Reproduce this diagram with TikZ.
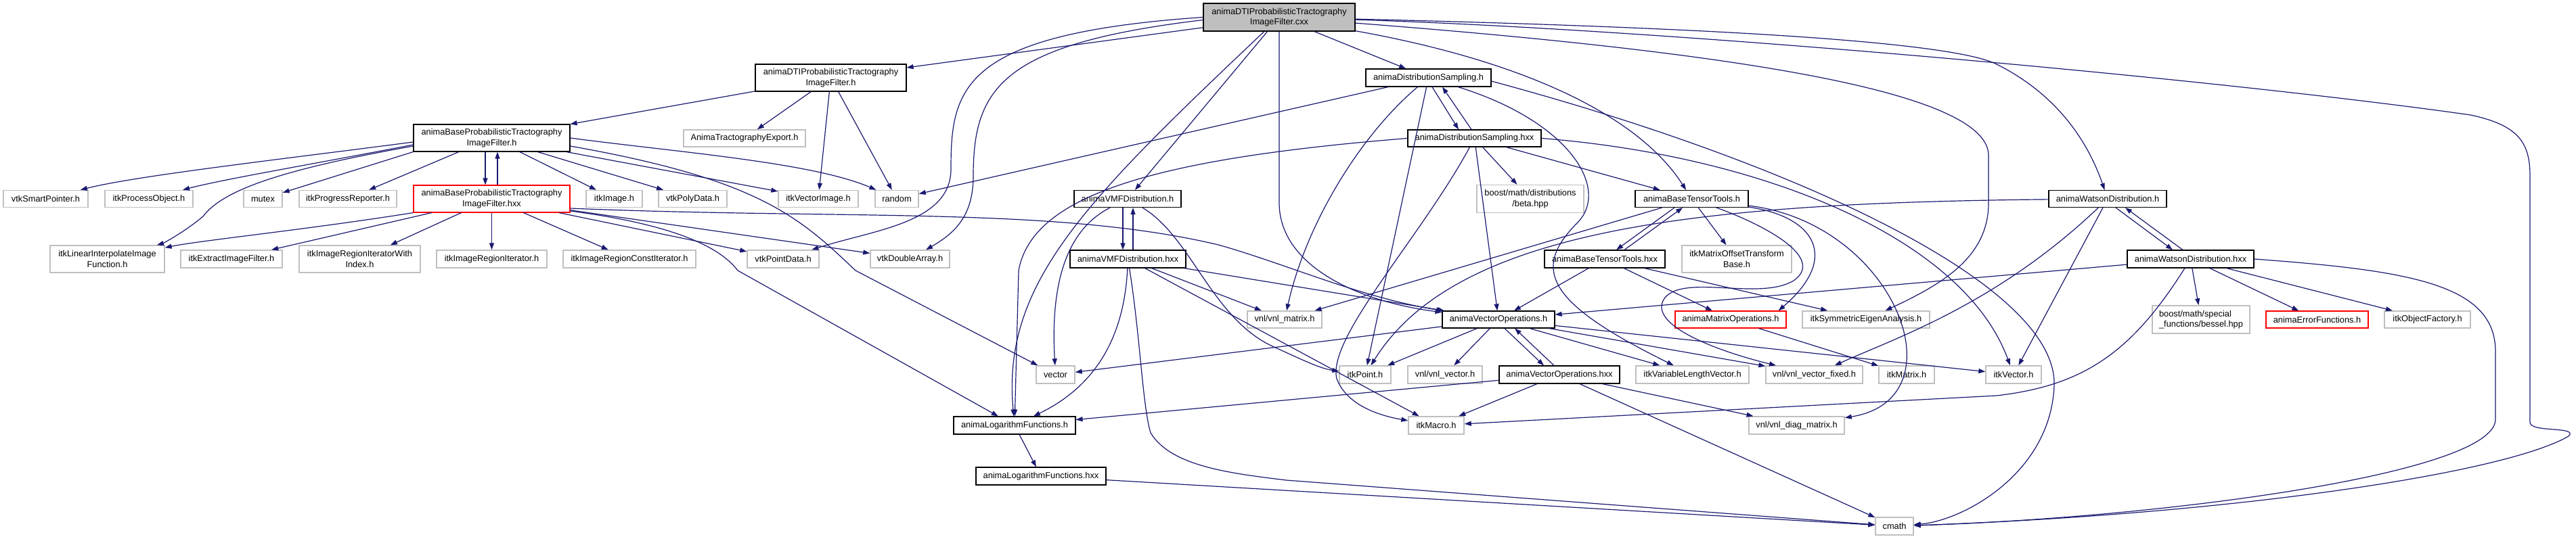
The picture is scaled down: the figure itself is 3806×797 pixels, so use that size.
\documentclass[tikz,border=0pt]{standalone}
\usepackage{fontspec}
\setmainfont{Liberation Sans}
\usetikzlibrary{arrows.meta,calc}
\definecolor{edgec}{HTML}{191970}
\definecolor{sysc}{HTML}{BFBFBF}
\definecolor{rootc}{HTML}{BFBFBF}
\definecolor{truncc}{HTML}{FF0000}
\newcommand\mybox[7]{\node[#1,minimum width={(#5-#3)*1pt},minimum height={(#6-#4)*1pt}] (#2) at ({(#3+#5)/2},{(#4+#6)/2}) {#7};}
\tikzset{
  basebox/.style={rectangle,inner sep=0pt,align=center,font=\fontsize{12.8}{15.5}\selectfont},
  sysn/.style={basebox,draw=sysc,line width=1.4pt},
  prjn/.style={basebox,draw=black,line width=1.1pt},
  trn/.style={basebox,draw=truncc,line width=1.1pt},
  rootn/.style={basebox,draw=black,fill=rootc,line width=1.1pt},
  edge/.style={draw=edgec,line width=1.2pt,-{Triangle[length=10pt,width=7pt]}}
}
\begin{document}
\begin{tikzpicture}[x=1pt,y=-1pt]
\useasboundingbox (0,0) rectangle (3806,797);
% ---------- nodes ----------
\mybox{rootn}{T}{1778}{5}{2002}{46}{animaDTIProbabilisticTractography\\ImageFilter.cxx}
\mybox{prjn}{DTIh}{1116}{95}{1339}{135}{animaDTIProbabilisticTractography\\ImageFilter.h}
\mybox{sysn}{ATE}{1010}{192}{1190}{217}{AnimaTractographyExport.h}
\mybox{prjn}{BPh}{611}{184}{842}{224}{animaBaseProbabilisticTractography\\ImageFilter.h}
\mybox{trn}{BPhxx}{611}{274}{842}{314}{animaBaseProbabilisticTractography\\ImageFilter.hxx}
\mybox{sysn}{vtkSP}{5}{281.5}{130}{306.5}{vtkSmartPointer.h}
\mybox{sysn}{itkPO}{155}{281.5}{285}{306.5}{itkProcessObject.h}
\mybox{sysn}{mutex}{360}{281.5}{417}{306.5}{mutex}
\mybox{sysn}{itkPR}{442}{281.5}{586}{306.5}{itkProgressReporter.h}
\mybox{sysn}{itkImage}{866}{281.5}{949}{306.5}{itkImage.h}
\mybox{sysn}{vtkPoly}{973}{281.5}{1074}{306.5}{vtkPolyData.h}
\mybox{sysn}{itkVI}{1150}{281.5}{1268}{306.5}{itkVectorImage.h}
\mybox{sysn}{random}{1293}{281.5}{1357}{306.5}{random}
\mybox{prjn}{VMFh}{1587}{281.5}{1745}{306.5}{animaVMFDistribution.h}
\mybox{prjn}{VMFhxx}{1581}{370}{1752}{396}{animaVMFDistribution.hxx}
\mybox{sysn}{itkLin}{74}{363}{243}{403}{itkLinearInterpolateImage\\Function.h}
\mybox{sysn}{itkExt}{267}{370}{417}{396}{itkExtractImageFilter.h}
\mybox{sysn}{itkIRIWI}{442}{363}{621}{403}{itkImageRegionIteratorWith\\Index.h}
\mybox{sysn}{itkIRI}{645}{370}{808}{396}{itkImageRegionIterator.h}
\mybox{sysn}{itkIRCI}{832}{370}{1028}{396}{itkImageRegionConstIterator.h}
\mybox{sysn}{vtkPD}{1104}{370}{1210}{396}{vtkPointData.h}
\mybox{sysn}{vtkDA}{1286}{370}{1403}{396}{vtkDoubleArray.h}
\mybox{prjn}{DSh}{2018}{102}{2203}{128}{animaDistributionSampling.h}
\mybox{prjn}{DShxx}{2080}{192}{2277}{217}{animaDistributionSampling.hxx}
\mybox{sysn}{beta}{2182}{273.5}{2340}{314.5}{boost/math/distributions\\/beta.hpp}
\mybox{prjn}{BTTh}{2416}{281.5}{2583}{306.5}{animaBaseTensorTools.h}
\mybox{prjn}{BTThxx}{2282}{370}{2460}{396}{animaBaseTensorTools.hxx}
\mybox{sysn}{itkMOTB}{2485}{363}{2647}{403}{itkMatrixOffsetTransform\\Base.h}
\mybox{prjn}{Wh}{3027}{281.5}{3201}{306.5}{animaWatsonDistribution.h}
\mybox{prjn}{Whxx}{3143}{370}{3330}{396}{animaWatsonDistribution.hxx}
\mybox{sysn}{vector}{1531}{541}{1588}{567}{vector}
\mybox{prjn}{LFh}{1409}{616}{1589}{642}{animaLogarithmFunctions.h}
\mybox{prjn}{LFhxx}{1442}{691}{1634}{717}{animaLogarithmFunctions.hxx}
\mybox{sysn}{vnlM}{1843}{460}{1953}{485}{vnl/vnl\_matrix.h}
\mybox{prjn}{VOh}{2131}{460}{2297}{485}{animaVectorOperations.h}
\mybox{trn}{MOh}{2475}{460}{2639}{485}{animaMatrixOperations.h}
\mybox{sysn}{itkSym}{2663}{460}{2851}{485}{itkSymmetricEigenAnalysis.h}
\mybox{sysn}{itkPoint}{1979}{541}{2055}{567}{itkPoint.h}
\mybox{sysn}{vnlV}{2080}{541}{2190}{567}{vnl/vnl\_vector.h}
\mybox{prjn}{VOhxx}{2215}{541}{2393}{567}{animaVectorOperations.hxx}
\mybox{sysn}{itkVLV}{2417}{541}{2584}{567}{itkVariableLengthVector.h}
\mybox{sysn}{vnlVF}{2609}{541}{2752}{567}{vnl/vnl\_vector\_fixed.h}
\mybox{sysn}{itkMatrix}{2776}{541}{2858}{567}{itkMatrix.h}
\mybox{sysn}{itkVector}{2934}{541}{3016}{567}{itkVector.h}
\mybox{sysn}{itkMacro}{2081}{616}{2163}{642}{itkMacro.h}
\mybox{sysn}{vnlDiag}{2584}{616}{2725}{642}{vnl/vnl\_diag\_matrix.h}
\mybox{sysn}{cmath}{2771}{765}{2827}{791}{cmath}
\node[sysn,align=left,minimum width=144pt,minimum height=41pt] (bessel) at (3252,472.5) {boost/math/special\\\_functions/bessel.hpp};
\mybox{trn}{errF}{3348}{460}{3499}{485}{animaErrorFunctions.h}
\mybox{sysn}{itkOF}{3523}{460}{3650}{485}{itkObjectFactory.h}
% ---------- edges from the .cxx ----------
\draw[edge] (T) -- (DTIh);
\draw[edge] (T.west) .. controls (1420,50) and (1405,130) .. (1405,250) .. controls (1405,330) and (1290,340) .. (vtkPD);
\draw[edge] ($(T.west)+(0,4)$) .. controls (1480,65) and (1438,130) .. (1438,260) .. controls (1438,320) and (1410,345) .. (vtkDA);
\draw[edge] (T) .. controls (1600,300) and (1480,420) .. (LFh);
\draw[edge] (T) -- (VMFh);
\draw[edge] (T) -- (1890,300) .. controls (1890,390) and (2000,445) .. (VOh);
\draw[edge] (T) -- (DSh);
\draw[edge] (T) .. controls (2250,90) and (2420,170) .. (BTTh);
\draw[edge] (T) .. controls (2500,40) and (2880,60) .. (2950,95) .. controls (3040,140) and (3085,210) .. (Wh);
\draw[edge] (T) .. controls (2600,80) and (2938,140) .. (2938,230) -- (2938,300) .. controls (2938,380) and (2870,420) .. (itkSym);
\draw[edge] (T) .. controls (2500,45) and (3300,120) .. (3650,170) .. controls (3720,185) and (3738,210) .. (3738,260) -- (3738,625) .. controls (3740,640) and (3810,630) .. (3795,645) .. controls (3700,700) and (3300,760) .. (cmath);
% ---------- DTI filter header ----------
\draw[edge] (DTIh) -- (BPh);
\draw[edge] (DTIh) -- (ATE);
\draw[edge] (DTIh) -- (itkVI);
\draw[edge] (DTIh) -- (random);
% ---------- base filter header ----------
\draw[edge] ($(BPh.west)+(0,6)$) .. controls (420,235) and (200,260) .. (vtkSP);
\draw[edge] ($(BPh.west)+(0,10)$) .. controls (450,245) and (330,265) .. (itkPO);
\draw[edge] ($(BPh.west)+(0,12)$) .. controls (420,250) and (330,280) .. (300,320) .. controls (270,345) and (240,360) .. (itkLin);
\draw[edge] (BPh.south west) -- (mutex);
\draw[edge] (BPh) -- (itkPR);
\draw[edge] ($(BPh.south)+(-9.5,0)$) -- ($(BPhxx.north)+(-9.5,0)$);
\draw[edge] (BPh) -- (itkImage);
\draw[edge] (BPh) -- (vtkPoly);
\draw[edge] (BPh) -- (itkVI);
\draw[edge] (BPh.east) .. controls (1000,225) and (1200,240) .. (random);
\draw[edge] ($(BPh.east)+(0,12)$) .. controls (1120,265) and (1180,320) .. (1264,400) -- (vector);
% ---------- base filter hxx ----------
\draw[edge] ($(BPhxx.north)+(8.5,0)$) -- ($(BPh.south)+(8.5,0)$);
\draw[edge] (BPhxx.south west) .. controls (450,340) and (300,355) .. (itkLin);
\draw[edge] (BPhxx) -- (itkExt);
\draw[edge] (BPhxx) -- (itkIRIWI);
\draw[edge] (BPhxx) -- (itkIRI);
\draw[edge] (BPhxx) -- (itkIRCI);
\draw[edge] (BPhxx) -- (vtkPD);
\draw[edge] (BPhxx) -- (vtkDA);
\draw[edge] ($(BPhxx.east)+(0,14)$) .. controls (1250,325) and (1560,305) .. (1800,362) .. controls (1900,390) and (2010,440) .. (VOh);
\draw[edge] ($(BPhxx.east)+(0,18)$) .. controls (980,330) and (1060,360) .. (1090,400) -- (LFh);
% ---------- VMF ----------
\draw[edge] ($(VMFh.south)+(-7,0)$) -- ($(VMFhxx.north)+(-7.5,0)$);
\draw[edge] ($(VMFhxx.north)+(7.5,0)$) -- ($(VMFh.south)+(8,0)$);
\draw[edge] (VMFh) .. controls (1575,340) and (1552,420) .. (vector);
\draw[edge] (VMFh) .. controls (1760,350) and (1790,470) .. (1880,512) .. controls (1920,530) and (1950,545) .. (itkPoint);
\draw[edge] (VMFhxx) .. controls (1660,520) and (1600,580) .. (LFh);
\draw[edge] (VMFhxx) .. controls (1685,500) and (1688,600) .. (1700,640) .. controls (1730,690) and (1820,700) .. (1900,710) -- (cmath);
\draw[edge] (VMFhxx) -- (itkMacro);
\draw[edge] (VMFhxx) -- (vnlM);
\draw[edge] (VMFhxx) -- (VOh);
% ---------- distribution sampling ----------
\draw[edge] ($(DSh.south)+(5.5,0)$) -- ($(DShxx.north)+(-23.5,0)$);
\draw[edge] ($(DShxx.north)+(-4.5,0)$) -- ($(DSh.south)+(20.5,0)$);
\draw[edge] (DSh) -- (random);
\draw[edge] (DSh) .. controls (2010,200) and (1930,330) .. (vnlM);
\draw[edge] (DSh) -- (itkPoint);
\draw[edge] (DSh) .. controls (2320,180) and (2380,280) .. (2330,330) .. controls (2260,400) and (2290,450) .. (itkVLV);
\draw[edge] ($(DSh.east)+(0,5)$) .. controls (2650,240) and (3040,420) .. (3035,570) .. controls (3030,700) and (2900,770) .. (cmath);
\draw[edge] (DShxx.west) .. controls (1700,235) and (1525,290) .. (1505,400) -- (LFh);
\draw[edge] (DShxx) .. controls (2100,350) and (1960,500) .. (1975,560) .. controls (1990,600) and (2040,615) .. (itkMacro);
\draw[edge] (DShxx) -- (VOh);
\draw[edge] (DShxx) -- (beta);
\draw[edge] (DShxx) -- (BTTh);
\draw[edge] (DShxx.east) .. controls (2600,230) and (2900,350) .. (itkVector);
% ---------- base tensor tools ----------
\draw[edge] ($(BTTh.south)+(-25.5,0)$) -- ($(BTThxx.north)+(17,0)$);
\draw[edge] ($(BTThxx.north)+(29,0)$) -- ($(BTTh.south)+(-13.5,0)$);
\draw[edge] (BTTh) -- (itkMOTB);
\draw[edge] (BTTh) -- (vnlM);
\draw[edge] (BTTh) .. controls (2800,330) and (2900,590) .. (vnlDiag);
\draw[edge] (BTTh) .. controls (2680,320) and (2720,380) .. ($(MOh.north east)+(-12,0)$);
\draw[edge] (BTTh) .. controls (2600,330) and (2700,380) .. (2650,415) .. controls (2600,445) and (2490,405) .. (2460,440) .. controls (2430,480) and (2540,520) .. (vnlVF);
\draw[edge] (BTThxx) -- (VOh);
\draw[edge] (BTThxx) -- (MOh);
\draw[edge] (BTThxx) -- (itkSym);
% ---------- Watson ----------
\draw[edge] ($(Wh.south)+(12,0)$) -- ($(Whxx.north)+(-26.5,0)$);
\draw[edge] ($(Whxx.north)+(-11.5,0)$) -- ($(Wh.south)+(26,0)$);
\draw[edge] (Wh) .. controls (2500,300) and (2150,340) .. (itkPoint);
\draw[edge] (Wh) -- (itkVector);
\draw[edge] (Wh) .. controls (2950,450) and (2800,500) .. (vnlVF);
\draw[edge] (Whxx) -- (VOh);
\draw[edge] (Whxx) .. controls (3150,520) and (3080,570) .. (2950,585) -- (itkMacro);
\draw[edge] (Whxx) -- (bessel);
\draw[edge] (Whxx) -- (errF);
\draw[edge] (Whxx) -- (itkOF);
\draw[edge] (Whxx.east) .. controls (3560,400) and (3687,420) .. (3687,520) -- (3687,620) .. controls (3687,700) and (3200,765) .. (cmath);
% ---------- vector operations ----------
\draw[edge] ($(VOh.south)+(9,0)$) -- ($(VOhxx.north)+(-23,0)$);
\draw[edge] ($(VOhxx.north)+(-8,0)$) -- ($(VOh.south)+(24,0)$);
\draw[edge] (VOh) -- (vector);
\draw[edge] (VOh) -- (itkPoint);
\draw[edge] (VOh) -- (vnlV);
\draw[edge] (VOh) -- (itkVLV);
\draw[edge] (VOh) -- (vnlVF);
\draw[edge] (VOh) -- (itkVector);
\draw[edge] (VOhxx) -- (LFh);
\draw[edge] (VOhxx) -- (itkMacro);
\draw[edge] (VOhxx) -- (vnlDiag);
\draw[edge] (VOhxx) -- (cmath);
% ---------- others ----------
\draw[edge] (MOh) -- (itkMatrix);
\draw[edge] (LFh) -- (LFhxx);
\draw[edge] (LFhxx) -- (cmath);
\end{tikzpicture}
\end{document}
